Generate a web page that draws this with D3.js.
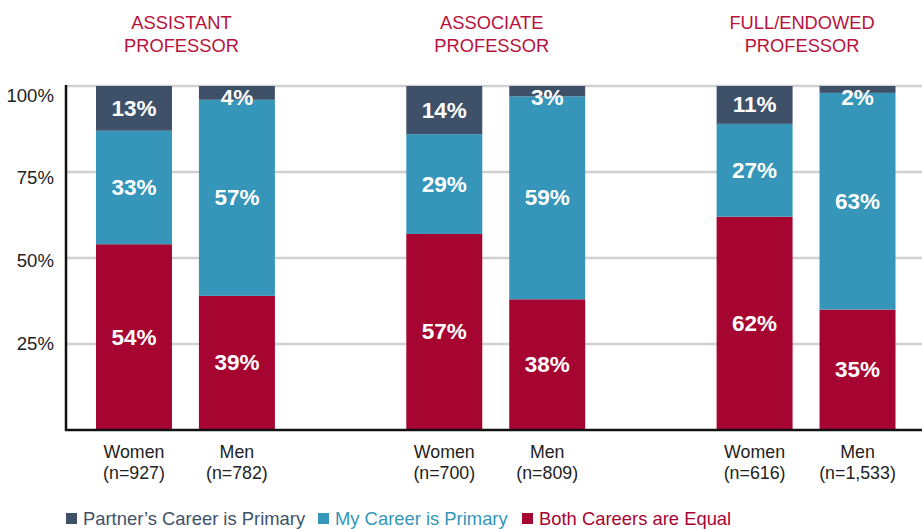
<!DOCTYPE html>
<html>
<head>
<meta charset="utf-8">
<script src="https://cdn.jsdelivr.net/npm/d3@7"></script>
<style>
  html, body { margin: 0; padding: 0; background: #fff; }
  svg { display: block; font-family: "Liberation Sans", Arial, Helvetica, sans-serif; }
</style>
</head>
<body>
<svg id="chart" width="922" height="529"></svg>
<script>
// ranks (groups) and their two-line titles
var ranks = ["assistant", "associate", "full"];
var rankTitles = [["ASSISTANT", "PROFESSOR"], ["ASSOCIATE", "PROFESSOR"], ["FULL/ENDOWED", "PROFESSOR"]];
var genders = ["Women", "Men"];
var sampleSizes = [["927", "782"], ["700", "809"], ["616", "1,533"]];

// series, bottom to top
var seriesKeys = ["equal", "mine", "partner"];
var seriesNames = ["Both Careers are Equal", "My Career is Primary", "Partner\u2019s Career is Primary"];
var equalValues   = [[54, 39], [57, 38], [62, 35]];
var mineValues    = [[33, 57], [29, 59], [27, 63]];
var partnerValues = [[13, 4],  [14, 3],  [11, 2]];

var yTicks = [25, 50, 75, 100];

var colors = { partner: "#3e5169", mine: "#3596b9", equal: "#a60532" };

(function() {
	"use strict";

	var svg = d3.select("#chart");
	var left = 66, right = 922, top = 86, bottom = 430;

	// flatten into rows for stacking
	var rows = [];
	ranks.forEach(function(r, i) {
		genders.forEach(function(g, j) {
			rows.push({ rank: r, gender: g, n: sampleSizes[i][j],
				equal: equalValues[i][j], mine: mineValues[i][j], partner: partnerValues[i][j] });
		});
	});

	var y = d3.scaleLinear().domain([0, 100]).range([bottom, top]);
	var xGroup = d3.scaleBand().domain(ranks).range([96, 895.5]).paddingInner(0.4235).paddingOuter(0);
	var xBar = d3.scaleBand().domain(genders).range([0, xGroup.bandwidth()]).paddingInner(0.262).paddingOuter(0);

	function barX(d) { return xGroup(d.rank) + xBar(d.gender); }

	// gridlines
	svg.append("g").selectAll("line")
		.data(yTicks)
		.join("line")
		.attr("x1", left).attr("x2", right)
		.attr("y1", function(d) { return y(d); })
		.attr("y2", function(d) { return y(d); })
		.attr("stroke", "#d0d0d0")
		.attr("stroke-width", 2.5);

	// y tick labels (the labels drift a little below their gridlines toward the top)
	svg.append("g").selectAll("text")
		.data(yTicks)
		.join("text")
		.attr("x", 54)
		.attr("y", function(d) { return y(d) + (d - 30) * 0.13; })
		.attr("text-anchor", "end")
		.attr("dominant-baseline", "central")
		.attr("font-size", 18.6)
		.attr("fill", "#222")
		.text(function(d) { return d + "%"; });

	// stacked bars
	var stack = d3.stack().keys(seriesKeys);
	var layers = stack(rows);

	var layerG = svg.append("g").selectAll("g")
		.data(layers)
		.join("g")
		.attr("fill", function(d) { return colors[d.key]; });

	layerG.selectAll("rect")
		.data(function(d) { return d; })
		.join("rect")
		.attr("x", function(d) { return barX(d.data); })
		.attr("width", xBar.bandwidth())
		.attr("y", function(d) { return y(d[1]); })
		.attr("height", function(d) { return y(d[0]) - y(d[1]); });

	// value labels
	layerG.selectAll("text")
		.data(function(d) { return d; })
		.join("text")
		.attr("x", function(d) { return barX(d.data) + xBar.bandwidth() / 2; })
		.attr("y", function(d) {
			var c = (y(d[0]) + y(d[1])) / 2;
			return Math.max(c, y(100) + 11);
		})
		.attr("text-anchor", "middle")
		.attr("dominant-baseline", "central")
		.attr("font-size", 22.5)
		.attr("font-weight", "bold")
		.attr("fill", "#fff")
		.text(function(d) { return (d[1] - d[0]) + "%"; });

	// axes lines
	svg.append("line")
		.attr("x1", left).attr("x2", left)
		.attr("y1", y(100) - 1).attr("y2", bottom + 1)
		.attr("stroke", "#111").attr("stroke-width", 2.5);
	svg.append("line")
		.attr("x1", left - 1).attr("x2", right)
		.attr("y1", bottom).attr("y2", bottom)
		.attr("stroke", "#111").attr("stroke-width", 2.5);

	// group titles
	var titles = svg.append("g").selectAll("text")
		.data(ranks)
		.join("text")
		.attr("x", function(d) { return xGroup(d) + xGroup.bandwidth() / 2 - 4; })
		.attr("y", 29)
		.attr("text-anchor", "middle")
		.attr("font-size", 18.3)
		.attr("fill", "#b8123c");
	titles.selectAll("tspan")
		.data(function(d, i) { return rankTitles[i]; })
		.join("tspan")
		.attr("x", function() { return d3.select(this.parentNode).attr("x"); })
		.attr("dy", function(d, i) { return i === 0 ? 0 : 22.5; })
		.text(function(d) { return d; });

	// category labels
	var cat = svg.append("g").selectAll("text")
		.data(rows)
		.join("text")
		.attr("x", function(d) { return barX(d) + xBar.bandwidth() / 2; })
		.attr("y", 458)
		.attr("text-anchor", "middle")
		.attr("font-size", 17.8)
		.attr("fill", "#222");
	cat.append("tspan")
		.attr("x", function(d) { return barX(d) + xBar.bandwidth() / 2; })
		.text(function(d) { return d.gender; });
	cat.append("tspan")
		.attr("x", function(d) { return barX(d) + xBar.bandwidth() / 2; })
		.attr("dy", 20.5)
		.text(function(d) { return "(n=" + d.n + ")"; });

	// legend (top series first)
	var legendOrder = ["partner", "mine", "equal"];
	var legendX = [66, 318, 522];
	var legend = svg.append("g").selectAll("g")
		.data(legendOrder)
		.join("g")
		.attr("transform", function(d, i) { return "translate(" + legendX[i] + ",0)"; });
	legend.append("rect")
		.attr("y", 513).attr("width", 11).attr("height", 11)
		.attr("fill", function(d) { return colors[d]; });
	legend.append("text")
		.attr("x", 17).attr("y", 524.5)
		.attr("font-size", 18.4)
		.attr("fill", function(d) { return colors[d]; })
		.text(function(d) { return seriesNames[seriesKeys.indexOf(d)]; });
})();
</script>
</body>
</html>
